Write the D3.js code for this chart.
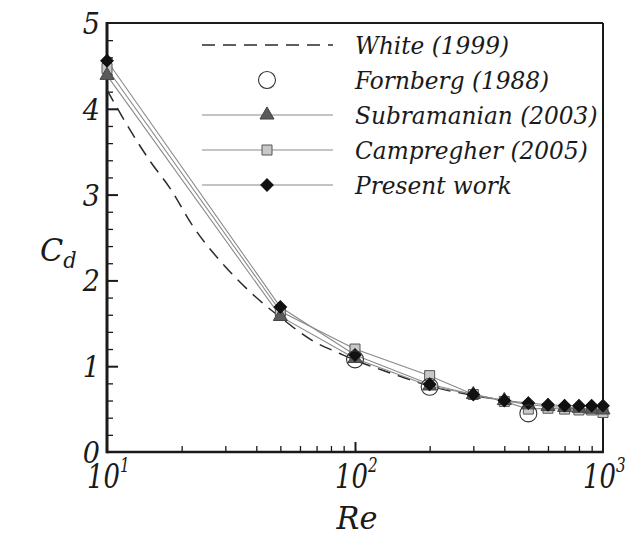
<!DOCTYPE html>
<html>
<head>
<meta charset="utf-8">
<script src="https://cdn.jsdelivr.net/npm/d3@7/dist/d3.min.js"></script>
<style>
  html, body { margin: 0; padding: 0; background: #fff; }
  svg { display: block; }
</style>
</head>
<body>
<svg id="chart" width="627" height="536" font-family="'DejaVu Serif', serif" font-style="italic"></svg>
<script>
// Drag coefficient of a circular cylinder versus Reynolds number
const reValues = [10, 50, 100, 200, 300, 400, 500, 600, 700, 800, 900, 1000];
const presentCd = [4.56, 1.69, 1.13, 0.79, 0.67, 0.60, 0.57, 0.55, 0.54, 0.54, 0.54, 0.54];
const subramanianCd = [4.39, 1.58, 1.09, 0.77, 0.67, 0.60, 0.55, 0.53, 0.52, 0.51, 0.50, 0.49];
const campregherCd = [4.47, 1.64, 1.20, 0.89, 0.67, 0.59, 0.50, 0.51, 0.50, 0.49, 0.49, 0.46];
const fornbergRe = [100, 200, 500];
const fornbergCd = [1.08, 0.76, 0.45];
const whiteRe = [10, 12, 15, 18, 22, 30, 40, 50, 70, 85, 100, 130, 160, 200, 300, 400, 500, 700, 1000];
const whiteCd = [4.22, 3.82, 3.38, 3.07, 2.65, 2.16, 1.80, 1.57, 1.27, 1.16, 1.07, 0.95, 0.86, 0.77, 0.66, 0.60, 0.56, 0.52, 0.49];
const yTickValues = [0, 1, 2, 3, 4, 5];
const xTickExponents = [1, 2, 3];
const legendNames = ["White (1999)", "Fornberg (1988)", "Subramanian (2003)", "Campregher (2005)", "Present work"];

const svg = d3.select("#chart");
const plot = { left: 107, right: 603, top: 23, bottom: 452 };
const textColor = "#1a1a1a";

const x = d3.scaleLog().domain([10, 1000]).range([plot.left, plot.right]);
const y = d3.scaleLinear().domain([0, 5]).range([plot.bottom, plot.top]);

const axisColor = "#1a1a1a";

// Inward ticks on the left axis: minor every 0.2, major at integers
const yMinor = d3.range(0, 5.001, 0.2).filter(v => Math.abs(v - Math.round(v)) > 1e-6);
svg.append("g")
  .attr("transform", `translate(${plot.left},0)`)
  .call(d3.axisLeft(y).tickValues(yMinor).tickSize(-6).tickFormat(""))
  .call(g => g.select(".domain").remove())
  .call(g => g.selectAll("line").attr("stroke", axisColor).attr("stroke-width", 1.3));
svg.append("g")
  .attr("transform", `translate(${plot.left},0)`)
  .call(d3.axisLeft(y).tickValues(yTickValues.slice(1, -1)).tickSize(-11).tickFormat(""))
  .call(g => g.select(".domain").remove())
  .call(g => g.selectAll("line").attr("stroke", axisColor).attr("stroke-width", 2));

// Inward ticks on the bottom axis
const xMinor = [];
for (let d = 10; d < 1000; d *= 10) for (let k = 2; k <= 9; k++) xMinor.push(k * d);
svg.append("g")
  .attr("transform", `translate(0,${plot.bottom})`)
  .call(d3.axisBottom(x).tickValues(xMinor).tickSize(-6).tickFormat(""))
  .call(g => g.select(".domain").remove())
  .call(g => g.selectAll("line").attr("stroke", axisColor).attr("stroke-width", 1.3));
svg.append("g")
  .attr("transform", `translate(0,${plot.bottom})`)
  .call(d3.axisBottom(x).tickValues([100]).tickSize(-10).tickFormat(""))
  .call(g => g.select(".domain").remove())
  .call(g => g.selectAll("line").attr("stroke", axisColor).attr("stroke-width", 2));

// Frame
svg.append("line").attr("x1", plot.left).attr("x2", plot.right).attr("y1", plot.top).attr("y2", plot.top)
  .attr("stroke", axisColor).attr("stroke-width", 2);
svg.append("line").attr("x1", plot.right).attr("x2", plot.right).attr("y1", plot.top).attr("y2", plot.bottom)
  .attr("stroke", axisColor).attr("stroke-width", 2);
svg.append("line").attr("x1", plot.left).attr("x2", plot.right + 1).attr("y1", plot.bottom).attr("y2", plot.bottom)
  .attr("stroke", axisColor).attr("stroke-width", 2.6);
svg.append("line").attr("x1", plot.left).attr("x2", plot.left).attr("y1", plot.top - 1).attr("y2", plot.bottom + 1.3)
  .attr("stroke", axisColor).attr("stroke-width", 3);

// Tick labels (serif italic, slightly condensed)
svg.append("g").selectAll("text").data(yTickValues).join("text")
  .attr("transform", d => `translate(${plot.left - 7},${y(d) + 11}) scale(0.9,1)`)
  .attr("text-anchor", "end").attr("font-size", 30).attr("fill", textColor)
  .text(d => d);

const xLabels = svg.append("g").selectAll("text").data(xTickExponents).join("text")
  .attr("transform", d => `translate(${x(Math.pow(10, d)) - 20},488) scale(0.76,1)`)
  .attr("font-size", 34).attr("fill", textColor);
xLabels.append("tspan").text("10");
xLabels.append("tspan").attr("dy", -16).attr("font-size", 20).text(d => d);

// Axis titles
svg.append("text").attr("transform", "translate(357,529) scale(0.95,1)").attr("text-anchor", "middle")
  .attr("font-size", 32).attr("fill", textColor).text("Re");
const yTitle = svg.append("text").attr("transform", "translate(40,261) scale(0.95,1)")
  .attr("font-size", 32).attr("fill", textColor);
yTitle.append("tspan").text("C");
yTitle.append("tspan").attr("dy", 7).attr("font-size", 22).text("d");

// Series
const lineGray = "#8a8a8a";
const pts = vals => reValues.map((r, i) => [r, vals[i]]);
const line = d3.line().x(d => x(d[0])).y(d => y(d[1]));
const smooth = d3.line().x(d => x(d[0])).y(d => y(d[1])).curve(d3.curveMonotoneX);

svg.append("path").datum(whiteRe.map((r, i) => [r, whiteCd[i]]))
  .attr("d", smooth).attr("fill", "none").attr("stroke", "#2a2a2a")
  .attr("stroke-width", 1.5).attr("stroke-dasharray", "13,8");

[campregherCd, subramanianCd, presentCd].forEach(vals => {
  svg.append("path").datum(pts(vals)).attr("d", line)
    .attr("fill", "none").attr("stroke", lineGray).attr("stroke-width", 1.1);
});

const triangle = d3.symbol().type(d3.symbolTriangle).size(85);
const square = d3.symbol().type(d3.symbolSquare).size(100);
const diamondSquare = d3.symbol().type(d3.symbolSquare).size(78);

// marker specs: generator, rotation, fill, stroke
const markerStyles = {
  campregher: [square, 0, "#c8c8c8", "#555"],
  subramanian: [triangle, 0, "#5a5a5a", "#444"],
  present: [diamondSquare, 45, "#111", "#111"]
};

function drawMarkers(vals, style) {
  const [gen, rot, fill, stroke] = style;
  svg.append("g").selectAll("path").data(pts(vals)).join("path")
    .attr("transform", d => `translate(${x(d[0])},${y(d[1])}) rotate(${rot})`)
    .attr("d", gen).attr("fill", fill).attr("stroke", stroke).attr("stroke-width", 1);
}
drawMarkers(campregherCd, markerStyles.campregher);
drawMarkers(subramanianCd, markerStyles.subramanian);
drawMarkers(presentCd, markerStyles.present);

svg.append("g").selectAll("circle").data(fornbergRe.map((r, i) => [r, fornbergCd[i]])).join("circle")
  .attr("cx", d => x(d[0])).attr("cy", d => y(d[1])).attr("r", 8.5)
  .attr("fill", "none").attr("stroke", "#333").attr("stroke-width", 1.1);

// Legend
const legendRows = [45, 80, 115, 150, 185];
const lx1 = 202, lx2 = 333, lmx = 267;
svg.append("line").attr("x1", lx1).attr("x2", lx2).attr("y1", legendRows[0]).attr("y2", legendRows[0])
  .attr("stroke", "#2a2a2a").attr("stroke-width", 1.5).attr("stroke-dasharray", "13,8");
svg.append("circle").attr("cx", lmx).attr("cy", legendRows[1]).attr("r", 8.5)
  .attr("fill", "none").attr("stroke", "#333").attr("stroke-width", 1.1);
[[2, markerStyles.subramanian], [3, markerStyles.campregher], [4, markerStyles.present]].forEach(([row, style]) => {
  const [gen, rot, fill, stroke] = style;
  svg.append("line").attr("x1", lx1).attr("x2", lx2).attr("y1", legendRows[row]).attr("y2", legendRows[row])
    .attr("stroke", lineGray).attr("stroke-width", 1.1);
  svg.append("path").attr("transform", `translate(${lmx},${legendRows[row]}) rotate(${rot})`)
    .attr("d", gen).attr("fill", fill).attr("stroke", stroke).attr("stroke-width", 1);
});
svg.append("g").selectAll("text").data(legendNames).join("text")
  .attr("transform", (d, i) => `translate(355,${legendRows[i] + 8.5}) scale(0.93,1)`)
  .attr("font-size", 25).attr("fill", textColor).text(d => d);
</script>
</body>
</html>
